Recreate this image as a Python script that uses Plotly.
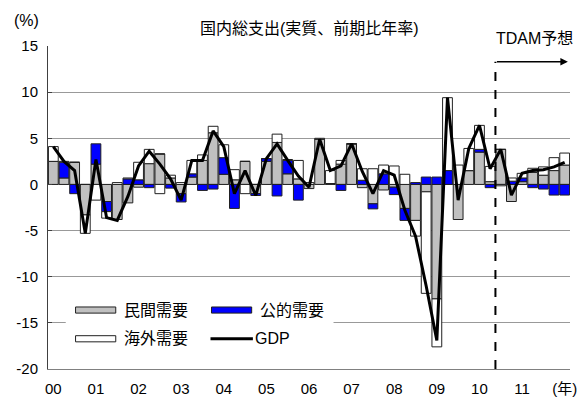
"""国内総支出 寄与度 chart."""
import plotly.graph_objects as go

quarters = [f"{y}Q{q}" for y in range(2000, 2012) for q in range(1, 5)] + ["2012Q1"]

# contributions (%pt, q/q annualised)
private = [2.5, 0.7, 2.4, -3.3, 2.2, -1.85, -3.8, -2.0, -0.3, 2.25, 3.3, 0.7,
           -1.0, 0.8, 2.6, 5.6, 1.1, 0.5, 2.5, -1.0, 2.5, 4.55, 1.15, 0.6,
           -0.45, 4.9, 0.1, 2.2, 4.4, -0.35, -2.1, -0.6, -0.3, -2.6, -3.9, -0.8,
           -12.4, 0.0, -3.8, 1.5, 3.5, 0.3, 3.8, -1.85, 0.3, 1.3, 1.0, 1.5, 2.1]
public = [0.0, 1.7, -1.0, 0.0, 2.2, -1.1, 0.0, 0.6, 0.5, -0.35, 0.0, -0.4,
          -0.9, 0.35, -0.65, -0.5, 1.8, -2.6, 0.0, -0.2, 0.3, -1.25, 1.45, -1.7,
          0.0, 0.0, 0.0, -0.65, 0.0, 0.45, -0.55, 1.15, -0.8, -1.3, 0.2, 0.8,
          0.8, 1.5, 0.0, 0.0, 0.3, -0.35, 0.0, 0.35, 0.4, -0.35, -0.5, -1.15, -1.15]
external = [1.6, 0.1, 0.0, -2.0, -1.7, -0.7, 0.2, 0.1, 1.9, 1.55, -1.0, 0.3,
            0.2, 1.45, 0.6, 0.7, 1.4, 1.1, -1.0, 0.0, 0.0, 0.9, 0.1, 2.0,
            0.2, 0.1, 1.4, 0.4, 0.0, 1.25, 1.7, 0.95, 2.0, 1.1, -1.7, -11.0,
            -5.2, 7.9, 2.1, 2.4, 2.6, 1.65, -0.15, 0.35, 0.5, 0.45, 0.9, 1.4, 1.3]
gdp = [4.1, 2.5, 1.5, -5.3, 2.7, -3.6, -3.9, -1.3, 2.0, 3.6, 2.2, 0.6,
       -1.7, 2.6, 2.6, 5.8, 4.1, -1.0, 1.5, -1.2, 2.8, 4.4, 2.6, 0.9,
       -0.3, 4.9, 1.5, 2.0, 4.4, 1.4, -1.0, 1.5, 1.0, -2.8, -5.6, -11.0,
       -16.9, 9.4, -1.7, 3.9, 6.4, 1.7, 3.8, -1.15, 1.2, 1.5, 1.6, 1.9, 2.4]

x_tickvals = [f"{y}Q1" for y in range(2000, 2013)]
x_ticktext = [f"{y % 100:02d}" for y in range(2000, 2012)] + ["(年)"]
y_tickvals = [15, 10, 5, 0, -5, -10, -15, -20]
y_ticktext = ["15", "10", "5", "0", "-5", "-10", "-15", "-20"]

FONT = "Liberation Sans, Arial, Noto Sans CJK JP, sans-serif"
outline = dict(color="#202020", width=1)
series_style = [
    ("民間需要", private, "#C0C0C0"),
    ("公的需要", public, "#0000FF"),
    ("海外需要", external, "#FFFFFF"),
]

fig = go.Figure()
for name, vals, col in series_style:
    fig.add_trace(go.Bar(x=quarters, y=vals, name=name,
                         marker=dict(color=col, line=outline)))
fig.add_trace(go.Scatter(x=quarters, y=gdp, name="GDP", mode="lines",
                         line=dict(color="black", width=3)))

# forecast marker
fig.add_shape(type="line", xref="x", yref="y", x0=41.5, x1=41.5, y0=-20, y1=13.3,
              line=dict(color="black", width=2, dash="dash"))
fig.add_annotation(x=48.3, y=13.3, ax=41.5, ay=13.3, xref="x", yref="y",
                   axref="x", ayref="y", showarrow=True, arrowhead=2,
                   arrowsize=1, arrowwidth=1.5, arrowcolor="black", text="")

# text around the plot
fig.add_annotation(x=1.0094, y=1.0245, xref="paper", yref="paper", xanchor="right",
                   yanchor="middle", showarrow=False, text="TDAM予想",
                   font=dict(size=16))
fig.add_annotation(x=-0.0415, y=1.08, xref="paper", yref="paper", xanchor="center",
                   yanchor="middle", showarrow=False, text="(%)", font=dict(size=16))
fig.add_annotation(x=0.5, y=1.055, xref="paper", yref="paper", xanchor="center",
                   yanchor="middle", showarrow=False, text="国内総支出(実質、前期比年率)",
                   font=dict(size=16))

# legend box (drawn by hand to get the wide Excel-style keys)
fig.add_shape(type="rect", xref="paper", yref="paper", x0=0.034, x1=0.547,
              y0=0.037, y1=0.242, fillcolor="white", line=dict(width=0), layer="above")
legend_pos = [(0.0528, 0.1825), (0.3132, 0.1825), (0.0528, 0.0936)]
for (name, _, col), (lx, ly) in zip(series_style, legend_pos):
    fig.add_shape(type="rect", xref="paper", yref="paper", x0=lx, x1=lx + 0.077,
                  y0=ly - 0.0095, y1=ly + 0.0095, fillcolor=col,
                  line=dict(color="#202020", width=1), layer="above")
    fig.add_annotation(x=lx + 0.089, y=ly, xref="paper", yref="paper", xanchor="left",
                       yanchor="middle", showarrow=False, text=name, font=dict(size=16))
fig.add_shape(type="line", xref="paper", yref="paper", x0=0.3113, x1=0.3925,
              y0=0.0936, y1=0.0936, line=dict(color="black", width=3), layer="above")
fig.add_annotation(x=0.3925, y=0.0936, xref="paper", yref="paper", xanchor="left",
                   yanchor="middle", showarrow=False, text="GDP", font=dict(size=16))

fig.update_layout(
    barmode="relative",
    bargap=0.08,
    width=577, height=397,
    paper_bgcolor="white", plot_bgcolor="white",
    font=dict(family=FONT, size=15, color="black"),
    margin=dict(l=39, r=8, t=38, b=33),
    showlegend=False,
)
fig.update_xaxes(type="category", tickvals=x_tickvals, ticktext=x_ticktext,
                 tickangle=0, showline=True, linecolor="#808080", ticks="",
                 ticklabelstandoff=6, showgrid=False, range=[-0.5, 48.5])
fig.update_yaxes(range=[-20, 15], tickvals=y_tickvals, ticktext=y_ticktext,
                 showgrid=True, gridcolor="#999999", gridwidth=1,
                 zeroline=True, zerolinecolor="#999999", zerolinewidth=1,
                 showline=True, linecolor="#404040", ticks="inside", ticklen=4,
                 tickcolor="#404040", ticklabelstandoff=6)

fig.write_html("out.html")
